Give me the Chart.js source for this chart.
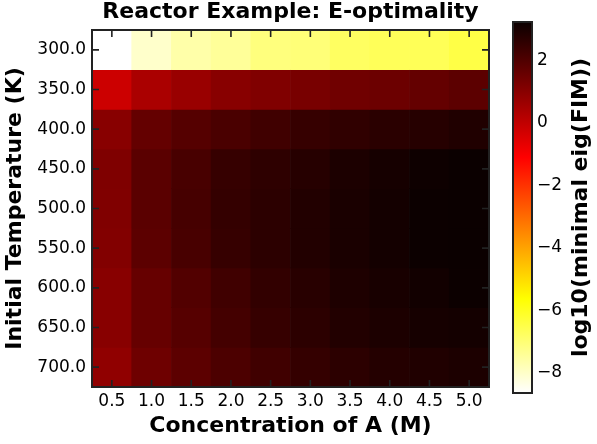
<!DOCTYPE html>
<html>
<head>
<meta charset="utf-8">
<script src="https://cdn.jsdelivr.net/npm/chart.js@4.4.1/dist/chart.umd.min.js"></script>
<style>
  html, body { margin: 0; padding: 0; background: #fff; }
  #wrap { position: relative; width: 597px; height: 444px; }
  #heat { position: absolute; left: 0; top: 0; }
  #cbar { position: absolute; left: 500px; top: 0; }
</style>
</head>
<body>
<div id="wrap">
  <canvas id="heat" width="581" height="444"></canvas>
  <canvas id="cbar" width="97" height="444"></canvas>
</div>
<script>
// axes
const concentrations = ['0.5', '1.0', '1.5', '2.0', '2.5', '3.0', '3.5', '4.0', '4.5', '5.0'];
const temperatures = [300, 350, 400, 450, 500, 550, 600, 650, 700];

// log10(minimal eig(FIM)), one array per initial temperature
const eig300 = [-8.64, -8.03, -7.62, -7.43, -7.10, -7.04, -6.77, -6.68, -6.65, -6.45];
const eig350 = [-0.21, 0.40, 0.70, 1.00, 1.14, 1.28, 1.42, 1.49, 1.64, 1.78];
const eig400 = [1.00, 1.64, 1.90, 2.10, 2.27, 2.45, 2.56, 2.66, 2.73, 2.84];
const eig450 = [1.16, 1.81, 2.13, 2.45, 2.59, 2.73, 2.91, 3.02, 3.16, 3.21];
const eig500 = [1.14, 1.81, 2.17, 2.49, 2.63, 2.81, 2.95, 3.05, 3.20, 3.22];
const eig550 = [1.10, 1.78, 2.13, 2.45, 2.63, 2.81, 2.95, 3.05, 3.19, 3.21];
const eig600 = [1.00, 1.60, 1.95, 2.27, 2.52, 2.70, 2.88, 2.98, 3.09, 3.19];
const eig650 = [1.00, 1.60, 1.88, 2.20, 2.45, 2.63, 2.81, 2.91, 3.02, 3.05];
const eig700 = [0.86, 1.46, 1.78, 2.06, 2.27, 2.49, 2.63, 2.77, 2.84, 2.91];

const grid = [eig300, eig350, eig400, eig450, eig500, eig550, eig600, eig650, eig700];

const chartTitle = 'Reactor Example: E-optimality';
const xTitle = 'Concentration of A (M)';
const yTitle = 'Initial Temperature (K)';
const cbTitle = 'log10(minimal eig(FIM))';

const vmin = Math.min(...grid.flat());
const vmax = Math.max(...grid.flat());
const FONT = 'DejaVu Sans';

// matplotlib 'hot_r'
function hotR(v) {
    let s = (vmax - v) / (vmax - vmin);
    s = Math.max(0, Math.min(1, s));
    const r = s < 0.365079 ? 0.0416 + s / 0.365079 * (1 - 0.0416) : 1;
    const g = s < 0.365079 ? 0 : (s < 0.746032 ? (s - 0.365079) / (0.746032 - 0.365079) : 1);
    const b = s < 0.746032 ? 0 : (s - 0.746032) / (1 - 0.746032);
    return 'rgb(' + Math.round(r * 255) + ',' + Math.round(g * 255) + ',' + Math.round(b * 255) + ')';
}

const fmtMinus = v => (v < 0 ? '\u2212' + Math.abs(v) : String(v));

// frame + inward ticks
const frameTicks = {
    id: 'frameTicks',
    afterDatasetsDraw(chart) {
        const {ctx, chartArea: a, scales} = chart;
        ctx.save();
        ctx.strokeStyle = '#222';
        ctx.lineWidth = 1.6;
        ctx.beginPath();
        scales.x.ticks.forEach((t, i) => {
            const x = scales.x.getPixelForTick(i);
            ctx.moveTo(x, a.bottom); ctx.lineTo(x, a.bottom - 7);
            ctx.moveTo(x, a.top); ctx.lineTo(x, a.top + 7);
        });
        temperatures.forEach(T => {
            const y = scales.y.getPixelForValue(T);
            ctx.moveTo(a.left, y); ctx.lineTo(a.left + 7, y);
            ctx.moveTo(a.right, y); ctx.lineTo(a.right - 7, y);
        });
        ctx.stroke();
        ctx.lineWidth = 2;
        ctx.strokeRect(a.left, a.top, a.right - a.left, a.bottom - a.top);
        ctx.restore();
    }
};

window.onload = () => {

    const datasets = temperatures.map((T, r) => ({
        label: String(T),
        data: concentrations.map(() => [T - 25, T + 25]),
        backgroundColor: grid[r].map(hotR),
        borderWidth: 0,
        grouped: false,
        barPercentage: 1,
        categoryPercentage: 1
    }));

    new Chart(document.getElementById('heat'), {
        type: 'bar',
        data: { labels: concentrations, datasets: datasets },
        options: {
            responsive: false,
            animation: false,
            layout: { padding: { left: 0, right: 92, top: 0, bottom: 0 } },
            plugins: {
                legend: { display: false },
                tooltip: { enabled: false },
                title: {
                    display: true,
                    text: chartTitle,
                    fullSize: false,
                    color: '#000',
                    font: { family: FONT, size: 22, weight: 'bold', lineHeight: 1.1 },
                    padding: { top: 0, bottom: 5.8 }
                }
            },
            scales: {
                x: {
                    grid: { display: false, drawTicks: false },
                    border: { display: false },
                    ticks: { color: '#000', padding: 4, maxRotation: 0, font: { family: FONT, size: 17 } },
                    title: {
                        display: true, text: xTitle, color: '#000',
                        font: { family: FONT, size: 22, weight: 'bold' },
                        padding: { top: 0, bottom: 5 }
                    },
                    afterFit: s => { s.height = 57; }
                },
                y: {
                    min: 275,
                    max: 725,
                    reverse: true,
                    grid: { display: false, drawTicks: false },
                    border: { display: false },
                    afterBuildTicks: s => { s.ticks = temperatures.map(v => ({ value: v })); },
                    ticks: {
                        color: '#000', padding: 6, font: { family: FONT, size: 17 },
                        callback: v => Number(v).toFixed(1)
                    },
                    title: {
                        display: true, text: yTitle, color: '#000',
                        font: { family: FONT, size: 22, weight: 'bold' },
                        padding: { top: 2, bottom: 0 }
                    },
                    afterFit: s => { s.width = 92; }
                }
            }
        },
        plugins: [frameTicks]
    });

    // colorbar
    const cbFrame = {
        id: 'cbFrame',
        afterDraw(chart) {
            const {ctx, chartArea: a} = chart;
            ctx.save();
            ctx.strokeStyle = '#222';
            ctx.lineWidth = 2;
            ctx.strokeRect(a.left, a.top, a.right - a.left, a.bottom - a.top);
            ctx.translate(81, (a.top + a.bottom) / 2);
            ctx.rotate(-Math.PI / 2);
            ctx.fillStyle = '#000';
            ctx.font = 'bold 22px "' + FONT + '"';
            ctx.textAlign = 'center';
            ctx.textBaseline = 'middle';
            ctx.fillText(cbTitle, 0, 0);
            ctx.restore();
        }
    };

    new Chart(document.getElementById('cbar'), {
        type: 'bar',
        data: {
            labels: [''],
            datasets: [{
                data: [[vmin, vmax]],
                borderWidth: 0,
                barPercentage: 1,
                categoryPercentage: 1,
                backgroundColor: c => {
                    const chart = c.chart;
                    if (!chart.chartArea) return '#000';
                    const y = chart.scales.y;
                    const g = chart.ctx.createLinearGradient(0, y.getPixelForValue(vmin), 0, y.getPixelForValue(vmax));
                    [0, 1 - 0.746032, 1 - 0.365079, 1].forEach(t => {
                        g.addColorStop(t, hotR(vmin + t * (vmax - vmin)));
                    });
                    return g;
                }
            }]
        },
        options: {
            responsive: false,
            animation: false,
            layout: { padding: { left: 13, right: 0, top: 22, bottom: 51 } },
            plugins: { legend: { display: false }, tooltip: { enabled: false } },
            scales: {
                x: { display: false },
                y: {
                    position: 'right',
                    min: vmin,
                    max: vmax,
                    grid: { display: false, drawTicks: false },
                    border: { display: false },
                    ticks: {
                        stepSize: 2, includeBounds: false, padding: 5, color: '#000',
                        font: { family: FONT, size: 17 },
                        callback: v => fmtMinus(v)
                    },
                    afterFit: s => { s.width = 65; }
                }
            }
        },
        plugins: [cbFrame]
    });
};
</script>
</body>
</html>
